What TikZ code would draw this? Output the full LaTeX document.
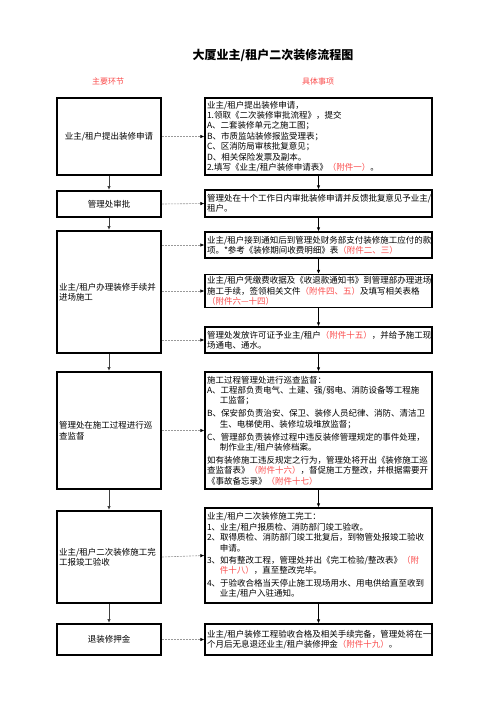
\documentclass[tikz,border=0pt]{standalone}
\usepackage{fontspec}
\setmainfont{Noto Sans CJK SC}
\usepackage{tikz}
\usepackage{xcolor}
\usetikzlibrary{arrows.meta}

\definecolor{notered}{RGB}{250,75,75}
\newcommand{\att}[1]{\textcolor{notered}{#1}}

\begin{document}
\begin{tikzpicture}[x=1pt, y=-1pt,
    stage/.style={draw, line width=2pt, minimum width=104pt, inner sep=2pt,
        font=\fontsize{8.5pt}{10.5pt}\selectfont},
    detail/.style={draw, line width=1.3pt, minimum width=227pt, inner sep=2pt,
        text width=223pt, align=left, font=\fontsize{8.5pt}{10.4pt}\selectfont},
    flow/.style={-{Latex[length=4pt, width=3.5pt]}, line width=0.9pt},
    link/.style={-{Latex[length=4pt, width=3.5pt, color=black]}, draw=gray!80,
        line width=0.6pt, dash pattern=on 2pt off 1pt},
    head/.style={text=notered, font=\fontsize{8pt}{10pt}\selectfont}]

    \useasboundingbox (0,0) rectangle (496,702);

    % Title
    \node[font=\fontsize{12pt}{14pt}\selectfont\bfseries] (title) at (273,55) {大厦业主/租户二次装修流程图};
    \node[head] (lhead) at (108,81) {主要环节};
    \node[head] (rhead) at (318,81) {具体事项};

    % Main stages
    \node[stage, minimum height=77pt] (s1) at (109,136.5) {业主/租户提出装修申请};
    \node[stage, minimum height=26pt] (s2) at (109,204) {管理处审批};
    \node[stage, minimum height=122pt, text width=100pt, align=left] (s3) at (109,292) {业主/租户办理装修手续并\\进场施工};
    \node[stage, minimum height=117pt, text width=100pt, align=left] (s4) at (109,430.5) {管理处在施工过程进行巡\\查监督};
    \node[stage, minimum height=92pt, text width=100pt, align=left] (s5) at (109,557) {业主/租户二次装修施工完\\工报竣工验收};
    \node[stage, minimum height=31pt] (s6) at (109,639.5) {退装修押金};

    % Details
    \node[detail, minimum height=77pt] (d1) at (318.5,136.5) {业主/租户提出装修申请，\\
        1.领取《二次装修审批流程》，提交\\
        A、二套装修单元之施工图；\\
        B、市质监站装修报监受理表；\\
        C、区消防局审核批复意见；\\
        D、相关保险发票及副本。\\
        2.填写《业主/租户装修申请表》\att{（附件一）}。};
    \node[detail, minimum height=27pt] (d2) at (318.5,203.5) {管理处在十个工作日内审批装修申请并反馈批复意见予业主/\\租户。};
    \node[detail, minimum height=26pt] (d3) at (318.5,245) {业主/租户接到通知后到管理处财务部支付装修施工应付的款\\项。*参考《装修期间收费明细》表\att{（附件二、三）}};
    \node[detail, minimum height=32pt] (d4) at (318.5,291) {业主/租户凭缴费收据及《收退款通知书》到管理部办理进场\\
        施工手续，签领相关文件\att{（附件四、五）}及填写相关表格\\
        \att{（附件六---十四）}};
    \node[detail, minimum height=26pt] (d5) at (318.5,340) {管理处发放许可证予业主/租户\att{（附件十五）}，并给予施工现\\场通电、通水。};
    \node[detail, minimum height=117pt] (d6) at (318.5,430.5) {施工过程管理处进行巡查监督：\\
        A、工程部负责电气、土建、强/弱电、消防设备等工程施\\
        \hspace*{1.5em}工监督；\\[2.5pt]
        B、保安部负责治安、保卫、装修人员纪律、消防、清洁卫\\
        \hspace*{1.5em}生、电梯使用、装修垃圾堆放监督；\\[2.5pt]
        C、管理部负责装修过程中违反装修管理规定的事件处理，\\
        \hspace*{1.5em}制作业主/租户装修档案。\\[2.5pt]
        如有装修施工违反规定之行为，管理处将开出《装修施工巡\\
        查监督表》\att{（附件十六）}，督促施工方整改，并根据需要开\\
        《事故备忘录》\att{（附件十七）}};
    \node[detail, minimum height=95pt] (d7) at (318.5,555.5) {业主/租户二次装修施工完工：\\
        1、业主/租户报质检、消防部门竣工验收。\\
        2、取得质检、消防部门竣工批复后，到物管处报竣工验收\\
        \hspace*{1.5em}申请。\\[2pt]
        3、如有整改工程，管理处并出《完工检验/整改表》\att{（附}\\
        \hspace*{1.5em}\att{件十八）}，直至整改完毕。\\[2pt]
        4、于验收合格当天停止施工现场用水、用电供给直至收到\\
        \hspace*{1.5em}业主/租户入驻通知。};
    \node[detail, minimum height=31pt] (d8) at (318.5,639.5) {业主/租户装修工程验收合格及相关手续完备，管理处将在一\\个月后无息退还业主/租户装修押金\att{（附件十九）}。};

    % Edges
    \foreach \a/\b in {s1/s2, s2/s3, s3/s4, s4/s5, s5/s6}
        \draw[flow, draw=black!75] (\a.south) -- (\b.north);
    \foreach \a/\b in {d1/d2, d2/d3, d3/d4, d4/d5, d5/d6, d6/d7, d7/d8}
        \draw[flow] (\a.south) -- (\b.north);

    % Links
    \draw[link] (s1.east) -- (d1.west);
    \draw[link] (s2.east) -- (d2.west);
    \draw[link] (s3.east |- d3.west) -- (d3.west);
    \draw[link] (s3.east |- d4.west) -- (d4.west);
    \draw[link] (s3.east |- d5.west) -- (d5.west);
    \draw[link] (s4.east) -- (d6.west);
    \draw[link] (s5.east) -- (d7.west);
    \draw[link] (s6.east) -- (d8.west);

\end{tikzpicture}
\end{document}
